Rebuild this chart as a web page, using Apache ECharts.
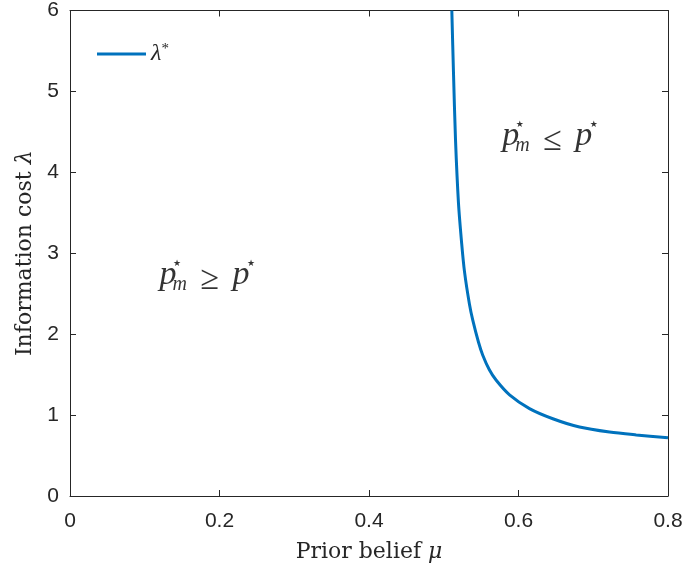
<!DOCTYPE html>
<html>
<head>
<meta charset="utf-8">
<script src="https://cdn.jsdelivr.net/npm/echarts@6/dist/echarts.min.js"></script>
<style>html,body{margin:0;padding:0;background:#fff}#c{width:686px;height:569px}</style>
</head>
<body>
<div id="c"></div>
<script>
var muValues = [0.5108, 0.5130, 0.5157, 0.5197, 0.5240, 0.5278, 0.5344, 0.5389, 0.5465, 0.5522, 0.5610, 0.5702, 0.5880, 0.6147, 0.6459, 0.6816, 0.7217, 0.7575, 0.8000];
var lambdaValues = [6.00, 5.24, 4.41, 3.62, 3.12, 2.77, 2.37, 2.17, 1.90, 1.74, 1.56, 1.43, 1.25, 1.08, 0.955, 0.852, 0.790, 0.755, 0.721];
var xTicks = [0, 0.2, 0.4, 0.6, 0.8];
var yTicks = [0, 1, 2, 3, 4, 5, 6];
var annotationMu = [0.1198, 0.5782];
var annotationLambda = [2.589, 4.30];
var annotationRelation = ['≥', '≤'];
var seriesName = 'λ*';

var axisColor = '#262626';
var serif = '"Liberation Serif","Times New Roman",serif';
var wideSerif = '"DejaVu Serif",serif';
var sans = '"Liberation Sans",Arial,sans-serif';

var chart = echarts.init(document.getElementById('c'));
var lineData = muValues.map(function (m, i) { return [m, lambdaValues[i]]; });

// glyph layout for the "p*_m rel p*" annotations (styling only)
function glyphs(rel) {
  return [
    {t: 'p', dx: 0, dy: -0.35 * 34, size: 34, fam: serif, st: 'italic'},
    {t: '★', dx: 13.5, dy: -23, size: 9, fam: '"DejaVu Sans",sans-serif', st: 'normal'},
    {t: 'm', dx: 13, dy: 5 - 0.35 * 20, size: 20, fam: serif, st: 'italic'},
    {t: rel, dx: 41, dy: 5 - 0.35 * 34, size: 34, fam: serif, st: 'normal'},
    {t: 'p', dx: 73, dy: -0.35 * 34, size: 34, fam: serif, st: 'italic'},
    {t: '★', dx: 87.5, dy: -23, size: 9, fam: '"DejaVu Sans",sans-serif', st: 'normal'}
  ];
}
var annData = [];
annotationMu.forEach(function (mu, i) {
  glyphs(annotationRelation[i]).forEach(function (g) {
    annData.push({
      value: [mu, annotationLambda[i]],
      label: {
        show: true, position: 'inside', align: 'left', verticalAlign: 'middle',
        offset: [g.dx, g.dy], formatter: g.t,
        fontFamily: g.fam, fontStyle: g.st, fontSize: g.size, color: '#000'
      }
    });
  });
});

function axisCommon() {
  return {
    axisLine: {show: true, onZero: false, lineStyle: {color: axisColor, width: 1}},
    axisTick: {show: true, inside: true, length: 6, lineStyle: {color: axisColor}},
    splitLine: {show: false}
  };
}

var xMain = Object.assign(axisCommon(), {
  type: 'value', min: xTicks[0], max: xTicks[xTicks.length - 1], interval: 0.2, position: 'bottom',
  axisLabel: {color: '#262626', fontFamily: sans, fontSize: 21, margin: 15,
    formatter: function (v) { return String(+v.toFixed(1)); }},
  name: 'Prior belief {i|μ}', nameLocation: 'middle', nameGap: 45,
  nameTextStyle: {fontFamily: wideSerif, fontSize: 22, color: '#262626',
    rich: {i: {fontFamily: wideSerif, fontStyle: 'italic', fontSize: 22, color: '#262626'}}}
});
var xTop = Object.assign(axisCommon(), {
  type: 'value', min: xTicks[0], max: xTicks[xTicks.length - 1], interval: 0.2, position: 'top',
  axisLabel: {show: false}
});
var yMain = Object.assign(axisCommon(), {
  type: 'value', min: yTicks[0], max: yTicks[yTicks.length - 1], interval: 1, position: 'left',
  axisLabel: {color: '#262626', fontFamily: sans, fontSize: 21, margin: 11},
  name: 'Information cost {i|λ}', nameLocation: 'middle', nameGap: 34,
  nameTextStyle: {fontFamily: wideSerif, fontSize: 22, color: '#262626',
    rich: {i: {fontFamily: wideSerif, fontStyle: 'italic', fontSize: 22, color: '#262626'}}}
});
var yRight = Object.assign(axisCommon(), {
  type: 'value', min: yTicks[0], max: yTicks[yTicks.length - 1], interval: 1, position: 'right',
  axisLabel: {show: false}
});

chart.setOption({
  animation: false,
  backgroundColor: '#fff',
  grid: {left: 70, right: 18, top: 10, bottom: 73, containLabel: false},
  legend: {
    show: true, left: 97, top: 42, padding: 0, itemWidth: 49, itemHeight: 14, itemGap: 7,
    icon: 'path://M0,6 L50,6 L50,9 L0,9 Z',
    data: [{name: seriesName}],
    formatter: function () { return '{l|λ}{s|*}'; },
    textStyle: {
      color: '#262626',
      rich: {
        l: {fontFamily: serif, fontStyle: 'italic', fontSize: 24, lineHeight: 24, color: '#262626'},
        s: {fontFamily: serif, fontSize: 15, lineHeight: 15, verticalAlign: 'top', color: '#262626'}
      }
    }
  },
  xAxis: [xMain, xTop],
  yAxis: [yMain, yRight],
  series: [
    {
      name: seriesName, type: 'line', xAxisIndex: 0, yAxisIndex: 0,
      data: lineData, showSymbol: false, smooth: 0.3,
      lineStyle: {color: '#0072BD', width: 3}, itemStyle: {color: '#0072BD'},
      clip: true
    },
    {
      name: 'ann', type: 'scatter', xAxisIndex: 0, yAxisIndex: 0,
      data: annData, symbolSize: 0, silent: true
    }
  ]
});
</script>
</body>
</html>
